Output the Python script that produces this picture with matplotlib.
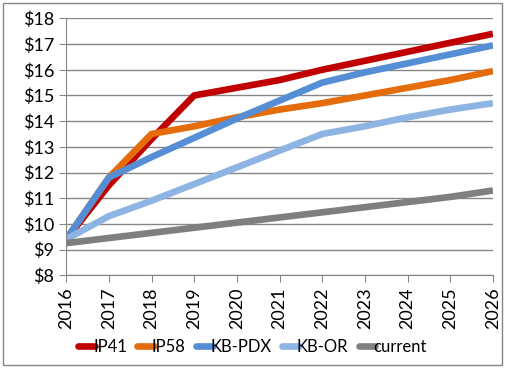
import matplotlib
matplotlib.use("Agg")
import matplotlib.pyplot as plt
from matplotlib.patches import Rectangle

years = [2016, 2017, 2018, 2019, 2020, 2021, 2022, 2023, 2024, 2025, 2026]
ip41 = [9.4, 11.5, 13.3, 15.0, 15.3, 15.6, 16.0, 16.35, 16.7, 17.05, 17.4]
ip58 = [9.4, 11.8, 13.5, 13.8, 14.15, 14.45, 14.7, 15.0, 15.3, 15.6, 15.95]
kb_pdx = [9.4, 11.8, 12.6, 13.35, 14.1, 14.8, 15.5, 15.9, 16.25, 16.6, 16.95]
kb_or = [9.4, 10.3, 10.9, 11.55, 12.2, 12.85, 13.5, 13.8, 14.15, 14.45, 14.7]
current = [9.25, 9.45, 9.65, 9.85, 10.05, 10.25, 10.45, 10.65, 10.85, 11.05, 11.3]

series = [
    ("IP41", ip41, "#C00000"),
    ("IP58", ip58, "#E46C0A"),
    ("KB-PDX", kb_pdx, "#558ED5"),
    ("KB-OR", kb_or, "#8EB4E3"),
    ("current", current, "#7F7F7F"),
]

plt.rcParams['font.family'] = ['Lato', 'DejaVu Sans']

fig = plt.figure(figsize=(5.05, 3.68), dpi=100)
ax = fig.add_axes([0.131, 0.252, 0.845, 0.698])

for name, vals, col in series:
    ax.plot(years, vals, color=col, lw=4.8, label=name, solid_capstyle='butt')

ax.set_xlim(2016, 2026)
ax.set_ylim(8, 18)
ax.set_xticks(years)
ax.set_xticklabels([str(y) for y in years], rotation=90)
ax.set_yticks(range(8, 19))
ax.set_yticklabels(['${}'.format(v) for v in range(8, 19)])
ax.tick_params(axis='both', labelsize=13, colors='#868686', labelcolor='black', length=5)
ax.grid(axis='y', color='#868686', lw=1)
ax.set_axisbelow(True)
for s in ['top', 'right']:
    ax.spines[s].set_visible(False)
for s in ['left', 'bottom']:
    ax.spines[s].set_color('#868686')

leg = fig.legend(loc='lower center', bbox_to_anchor=(0.5, -0.005), ncol=5, frameon=False,
                 fontsize=12, handlelength=1.0, handletextpad=-0.1, columnspacing=0.6)
for line in leg.get_lines():
    line.set_solid_capstyle('round')

fig.patches.append(Rectangle((0.006, 0.008), 0.988, 0.984, transform=fig.transFigure,
                             fill=False, edgecolor='#868686', lw=1))

fig.savefig("out.png", dpi=100)
